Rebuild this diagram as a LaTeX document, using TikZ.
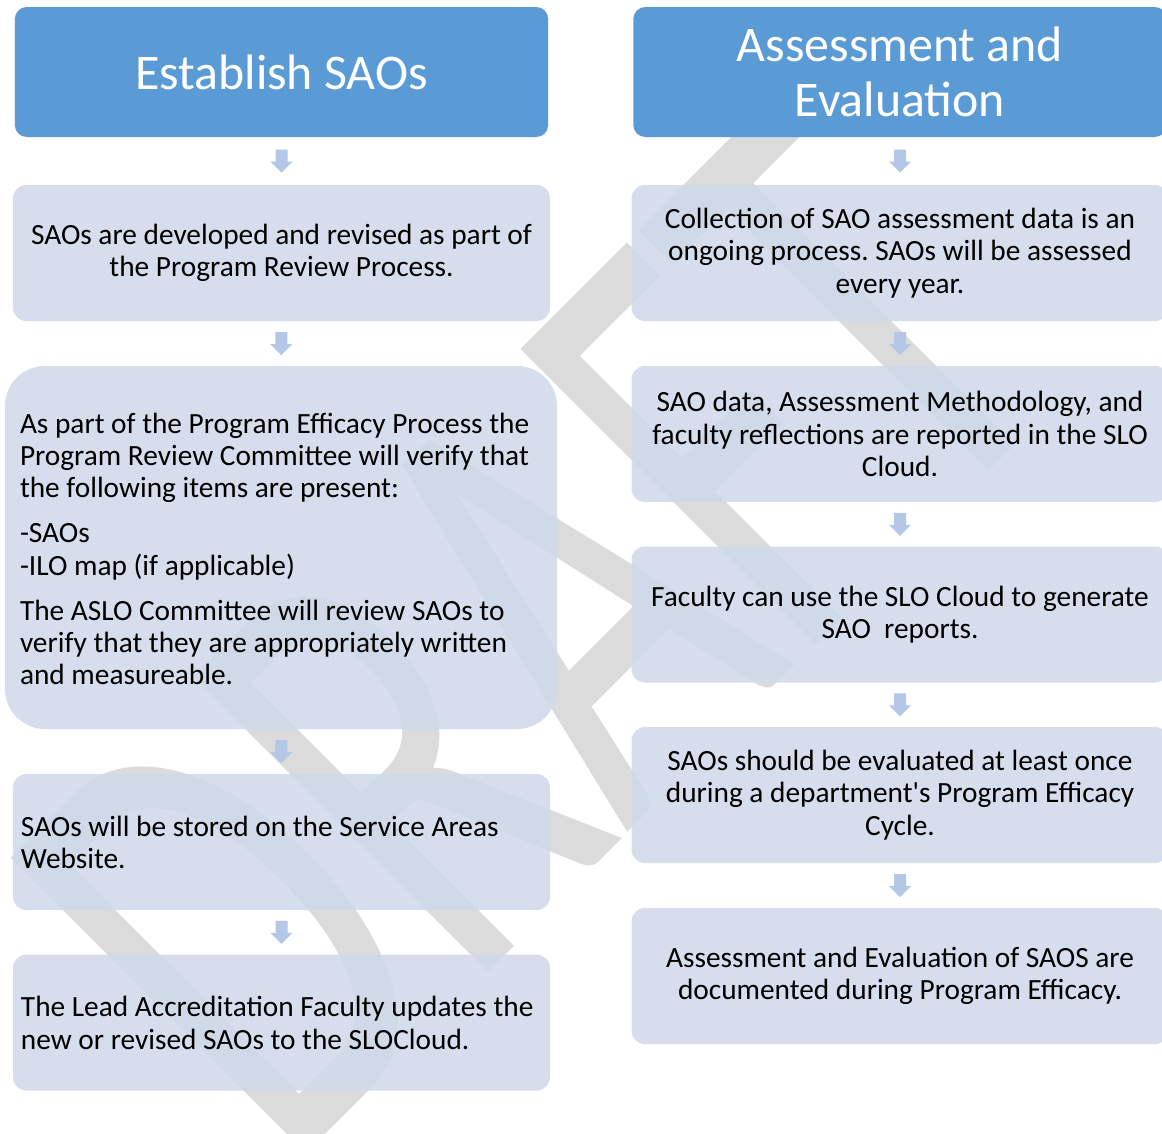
\documentclass[tikz,border=0pt]{standalone}
\usepackage{fontspec}
\setmainfont{Carlito}[Ligatures=TeXOff]
\usetikzlibrary{calc}
\definecolor{hdrblue}{RGB}{91,155,213}
\definecolor{cardfill}{RGB}{207,217,235}
\definecolor{arrowc}{RGB}{180,199,231}
\definecolor{wmark}{RGB}{219,219,219}
\newcommand\flowarrow[2]{%
  \fill[arrowc] let \p1=($(#1.south)!0.5!(#2.north)$) in
    (\x1-4.5pt,\y1+8.625pt) -- (\x1+4.5pt,\y1+8.625pt) -- (\x1+4.5pt,\y1-0.375pt)
    -- (\x1+8.25pt,\y1-0.375pt) -- (\x1,\y1-8.625pt) -- (\x1-8.25pt,\y1-0.375pt)
    -- (\x1-4.5pt,\y1-0.375pt) -- cycle;}
\begin{document}
\frenchspacing
\begin{tikzpicture}[x=0.75pt,y=0.75pt,
  hdr/.style={rectangle, rounded corners=9pt, fill=hdrblue, text=white,
    font=\fontsize{37.4pt}{41pt}\selectfont, minimum width=400pt,
    minimum height=97.5pt, inner sep=0pt, align=center},
  card/.style={rectangle, rounded corners=10pt, fill=cardfill, fill opacity=0.85,
    text opacity=1, text=black, font=\fontsize{22pt}{24.4pt}\selectfont,
    minimum width=402.75pt, minimum height=102pt, inner sep=0pt, align=center},
  bigcard/.style={card, rounded corners=30pt, minimum width=414pt,
    minimum height=272.25pt},
  lefttext/.style={anchor=west, inner sep=0pt, text=black, align=left,
    font=\fontsize{22pt}{24.2pt}\selectfont},
  wmtext/.style={transform shape, anchor=base west, inner sep=0pt, text=wmark,
    font=\fontsize{311pt}{311pt}\selectfont}
]
\useasboundingbox (0,0) rectangle (1162,-1133);
\clip (0,0) rectangle (1162,-1133);
\fill[white] (0,0) rectangle (1162,-1133);

% watermark
\begin{scope}[shift={(286.5,-1173.5)}, rotate=45, yscale=1.57]
  \node[wmtext] (wm) at (0,0) {DRAFT};
\end{scope}

% left column
\node[hdr] (h1) at (281.5,-72) {Establish SAOs};
\node[card] (b1) at (281.5,-253) {SAOs are developed and revised as part of\\the Program Review Process.};
\node[bigcard] (b2) at (281,-547.5) {};
\node[lefttext] (b2t) at ($(b2.west)+(15,-1.5)$) {As part of the Program Efficacy Process the\\
Program Review Committee will verify that\\
the following items are present:\\[9.6pt]
-SAOs\\
-ILO map (if applicable)\\[9.6pt]
The ASLO Committee will review SAOs to\\
verify that they are appropriately written\\
and measureable.};
\node[card] (b3) at (281.5,-842) {};
\node[lefttext] (b3t) at ($(b3.west)+(8,-0.5)$) {SAOs will be stored on the Service Areas\\Website.};
\node[card] (b4) at (281.5,-1022.5) {};
\node[lefttext] (b4t) at ($(b4.west)+(8,-0.5)$) {The Lead Accreditation Faculty updates the\\new or revised SAOs to the SLOCloud.};

% right column
\node[hdr] (h2) at (900,-72) {Assessment and\\Evaluation};
\node[card] (r1) at (900,-253) {Collection of SAO assessment data is an\\ongoing process. SAOs will be assessed\\every year.};
\node[card] (r2) at (900,-434) {SAO data, Assessment Methodology, and\\faculty reflections are reported in the SLO\\Cloud.};
\node[card] (r3) at (900,-614.5) {Faculty can use the SLO Cloud to generate\\SAO~ reports.};
\node[card] (r4) at (900,-795) {SAOs should be evaluated at least once\\during a department's Program Efficacy\\Cycle.};
\node[card] (r5) at (900,-976) {Assessment and Evaluation of SAOS are\\documented during Program Efficacy.};

% connectors
\flowarrow{h1}{b1}
\flowarrow{b1}{b2}
\flowarrow{b2}{b3}
\flowarrow{b3}{b4}
\flowarrow{h2}{r1}
\flowarrow{r1}{r2}
\flowarrow{r2}{r3}
\flowarrow{r3}{r4}
\flowarrow{r4}{r5}
\end{tikzpicture}
\end{document}
